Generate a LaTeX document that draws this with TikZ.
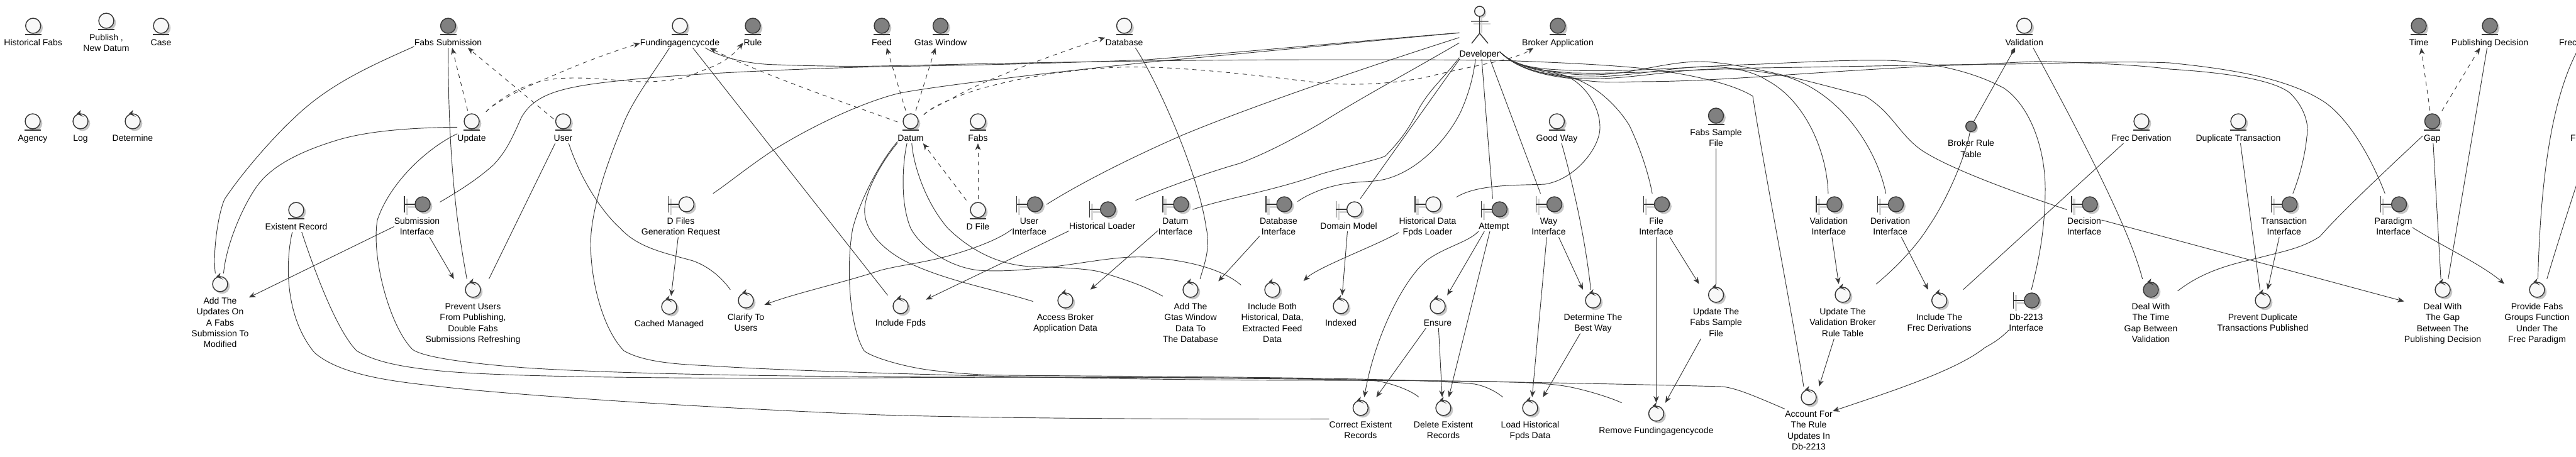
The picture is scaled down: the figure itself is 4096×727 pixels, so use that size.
\documentclass[tikz,border=0pt]{standalone}
\usepackage{fontspec}
\setmainfont{Liberation Sans}
\usepackage{tikz}
\usetikzlibrary{arrows.meta,shadows}
\definecolor{linecol}{RGB}{56, 56, 56}
\definecolor{lightfill}{RGB}{248, 248, 248}
\definecolor{darkfill}{RGB}{128, 128, 128}
\definecolor{barshade}{RGB}{214, 214, 214}

\newcommand{\topgap}{\rule{0pt}{36.2pt}}
\newcommand{\botgap}{\rule[-2.6pt]{0pt}{2.6pt}}
\newcommand{\entitynode}[5]{%
  \node[lbl] (#1) at (#2,#3-17.2) {\topgap #5\botgap};
  \draw[icon, fill=#4] (#2,#3) circle (12);
  \draw[iconline] (#2-13,#3+14) -- (#2+13,#3+14);
}
\newcommand{\controlnode}[5]{%
  \node[lbl] (#1) at (#2,#3-17.2) {\topgap #5\botgap};
  \draw[icon, fill=#4] (#2,#3) circle (12);
  \fill[linecol] (#2-6,#3-12) -- (#2+.5,#3-18) -- (#2-1,#3-12) -- (#2+5,#3-7) -- cycle;
}
\newcommand{\boundarynode}[5]{%
  \node[lbl] (#1) at (#2,#3-17.2) {\topgap #5\botgap};
  \draw[barline] (#2-16,#3-9) -- (#2-16,#3+17) (#2-16,#3+4) -- (#2+1,#3+4);
  \draw[iconline] (#2-20,#3-13) -- (#2-20,#3+13) (#2-20,#3) -- (#2-3,#3);
  \draw[icon, fill=#4] (#2+9,#3) circle (12);
}

\begin{document}
\begin{tikzpicture}[
    x=.75pt, y=-.75pt,
    lbl/.style={align=center, inner sep=0pt, anchor=north, minimum width=22.5pt,
      font=\fontsize{10.5}{13}\selectfont},
    icon/.style={draw=linecol, line width=1.1pt,
      drop shadow={shadow xshift=2.5pt, shadow yshift=-2.5pt, opacity=.45}},
    iconline/.style={draw=linecol, line width=1.1pt},
    barline/.style={draw=barshade, line width=2.6pt},
    rel/.style={draw=linecol, line width=.7pt},
    dep/.style={rel, dash pattern=on 5pt off 5pt},
    >={Stealth[length=8pt, width=6.5pt, inset=2.5pt]}
  ]
    \useasboundingbox (0,0) rectangle (4096,727);

    \entitynode{historicalFabs}{52.7}{41}{lightfill}{Historical Fabs}
    \entitynode{publishDatum}{169}{33}{lightfill}{Publish ,\\New Datum}
    \entitynode{caseEnt}{256}{41}{lightfill}{Case}
    \entitynode{fabsSubmission}{712.5}{41}{darkfill}{Fabs Submission}
    \entitynode{fundingagency}{1081}{41}{lightfill}{Fundingagencycode}
    \entitynode{ruleEnt}{1197}{41}{darkfill}{Rule}
    \entitynode{feed}{1402}{41}{darkfill}{Feed}
    \entitynode{gtasWindow}{1495.5}{41}{darkfill}{Gtas Window}
    \entitynode{databaseEnt}{1787.5}{41}{lightfill}{Database}
    \entitynode{brokerApplication}{2477}{41}{darkfill}{Broker Application}
    \entitynode{validationEnt}{3218.7}{41}{lightfill}{Validation}
    \entitynode{timeEnt}{3846}{41}{darkfill}{Time}
    \entitynode{publishingDecision}{3959}{41}{darkfill}{Publishing Decision}
    \node[lbl, text width=69pt, align=left] (frec) at (4115,23.8) {\topgap Frec\botgap};

    \entitynode{agency}{52}{193}{lightfill}{Agency}
    \controlnode{logCtrl}{128}{193}{lightfill}{Log}
    \controlnode{determineCtrl}{211}{193}{lightfill}{Determine}
    \entitynode{update}{750}{193}{lightfill}{Update}
    \entitynode{user}{895.5}{193}{lightfill}{User}
    \entitynode{datum}{1448}{193}{lightfill}{Datum}
    \entitynode{fabs}{1555}{193}{lightfill}{Fabs}
    \entitynode{goodWay}{2475.5}{193}{lightfill}{Good Way}
    \entitynode{fabsSample}{2728.5}{184}{darkfill}{Fabs Sample\\File}
    \entitynode{frecDerivation}{3405}{193}{lightfill}{Frec Derivation}
    \entitynode{duplicateTransaction}{3559}{193}{lightfill}{Duplicate Transaction}
    \entitynode{gap}{3867.4}{193}{darkfill}{Gap}
    \node[lbl, text width=60pt, align=left] (fragment) at (4127,175.8) {\topgap F\botgap};

    \node[lbl, anchor=north, circle, draw=linecol, line width=1.1pt, fill=darkfill, minimum size=12.5pt,
      drop shadow={shadow xshift=2pt, shadow yshift=-2pt, opacity=.45}, anchor=center] (brokerRule) at (3134,201) {};
    \node[lbl, anchor=center] (brokerRuleLabel) at (3134,236.5) {Broker Rule\\Table};

    \node[lbl] (developer) at (2352.5,5) {\rule{0pt}{63.75pt}Developer\botgap};
    \draw[barline, line width=2pt] (2356,29) -- (2356,52) (2343,38) -- (2370,38);
    \draw[iconline, fill=lightfill, drop shadow={shadow xshift=2pt, shadow yshift=-2pt, opacity=.4}] (2352.7,18) circle (8);
    \draw[iconline] (2352.7,26) -- (2352.7,53) (2339,34) -- (2366.5,34) (2340,69) -- (2352.7,53) -- (2366,69);

    \entitynode{existentRecord}{471}{334}{lightfill}{Existent Record}
    \boundarynode{submissionInterface}{663}{325}{darkfill}{Submission\\Interface}
    \boundarynode{dFiles}{1082.5}{325}{lightfill}{D Files\\Generation Request}
    \entitynode{dFile}{1555}{334}{lightfill}{D File}
    \boundarynode{userInterface}{1636.6}{325}{darkfill}{User\\Interface}
    \boundarynode{historicalLoader}{1752.7}{333}{darkfill}{Historical Loader}
    \boundarynode{datumInterface}{1869}{325}{darkfill}{Datum\\Interface}
    \boundarynode{databaseInterface}{2033}{325}{darkfill}{Database\\Interface}
    \boundarynode{domainModel}{2144.6}{333}{lightfill}{Domain Model}
    \boundarynode{historicalData}{2270}{325}{lightfill}{Historical Data\\Fpds Loader}
    \boundarynode{attempt}{2375.4}{333}{darkfill}{Attempt}
    \boundarynode{wayInterface}{2462.5}{325}{darkfill}{Way\\Interface}
    \boundarynode{fileInterface}{2633.5}{325}{darkfill}{File\\Interface}
    \boundarynode{validationInterface}{2907.8}{325}{darkfill}{Validation\\Interface}
    \boundarynode{derivationInterface}{3005.6}{325}{darkfill}{Derivation\\Interface}
    \boundarynode{decisionInterface}{3314}{325}{darkfill}{Decision\\Interface}
    \boundarynode{transactionInterface}{3631.7}{325}{darkfill}{Transaction\\Interface}
    \boundarynode{paradigmInterface}{3805.6}{325}{darkfill}{Paradigm\\Interface}

    \controlnode{addUpdates}{350}{452}{lightfill}{Add The\\Updates On\\A Fabs\\Submission To\\Modified}
    \controlnode{preventUsers}{752}{461}{lightfill}{Prevent Users\\From Publishing,\\Double Fabs\\Submissions Refreshing}
    \controlnode{cachedManaged}{1064}{488}{lightfill}{Cached Managed}
    \controlnode{clarifyUsers}{1186}{478}{lightfill}{Clarify To\\Users}
    \controlnode{includeFpds}{1432}{487}{lightfill}{Include Fpds}
    \controlnode{accessBroker}{1694}{478}{lightfill}{Access Broker\\Application Data}
    \controlnode{addGtas}{1893}{461}{lightfill}{Add The\\Gtas Window\\Data To\\The Database}
    \controlnode{includeBoth}{2023}{461}{lightfill}{Include Both\\Historical, Data,\\Extracted Feed\\Data}
    \controlnode{indexedCtrl}{2132}{487}{lightfill}{Indexed}
    \controlnode{ensureCtrl}{2286}{487}{lightfill}{Ensure}
    \controlnode{determineWay}{2533}{478}{lightfill}{Determine The\\Best Way}
    \controlnode{updateFabs}{2728.6}{469}{lightfill}{Update The\\Fabs Sample\\File}
    \controlnode{updateValidation}{2930}{469}{lightfill}{Update The\\Validation Broker\\Rule Table}
    \controlnode{includeFrec}{3083.6}{478}{lightfill}{Include The\\Frec Derivations}
    \boundarynode{dbInterface}{3221.6}{478}{darkfill}{Db-2213\\Interface}
    \controlnode{dealTime}{3420}{461}{darkfill}{Deal With\\The Time\\Gap Between\\Validation}
    \controlnode{preventDuplicate}{3598}{478}{lightfill}{Prevent Duplicate\\Transactions Published}
    \controlnode{dealGap}{3884}{461}{lightfill}{Deal With\\The Gap\\Between The\\Publishing Decision}
    \controlnode{provideFabs}{4034}{461}{lightfill}{Provide Fabs\\Groups Function\\Under The\\Frec Paradigm}

    \controlnode{correctExistent}{2163.4}{649}{lightfill}{Correct Existent\\Records}
    \controlnode{deleteExistent}{2295}{649}{lightfill}{Delete Existent\\Records}
    \controlnode{loadHistorical}{2433}{649}{lightfill}{Load Historical\\Fpds Data}
    \controlnode{removeFunding}{2633.5}{658}{lightfill}{Remove Fundingagencycode}
    \controlnode{accountFor}{2876}{632}{lightfill}{Account For\\The Rule\\Updates In\\Db-2213}

    \draw[dep,->] (update) -- (fabsSubmission);
    \draw[dep,->] (user) -- (fabsSubmission);
    \draw[dep,->] (update) .. controls (785,165) and (820,145) .. (880,120) .. controls (925,100) and (980,80) .. (fundingagency);
    \draw[dep,->] (update) .. controls (785,165) and (810,148) .. (834,138) .. controls (860,127) and (885,124) .. (914,124)
      .. controls (960,124) and (1000,131) .. (1035,130) .. controls (1070,128) and (1090,125) .. (1110,115)
      .. controls (1135,105) and (1155,100) .. (ruleEnt);
    \draw[dep,->] (datum) .. controls (1390,180) and (1200,115) .. (fundingagency);
    \draw[dep,->] (datum) -- (feed);
    \draw[dep,->] (datum) -- (gtasWindow);
    \draw[dep,->] (datum) .. controls (1480,172) and (1500,165) .. (1520,153) .. controls (1570,125) and (1680,85) .. (databaseEnt);
    \draw[dep,->] (datum) .. controls (1480,172) and (1495,165) .. (1512,158) .. controls (1580,128) and (1700,110) .. (1780,107)
      .. controls (1870,104) and (2000,120) .. (2100,132) .. controls (2170,138) and (2240,130) .. (2279,120)
      .. controls (2340,105) and (2410,95) .. (brokerApplication);
    \draw[dep,->] (dFile) -- (datum);
    \draw[dep,->] (dFile) -- (fabs);
    \draw[dep,->] (gap) -- (timeEnt);
    \draw[dep,->] (gap) -- (publishingDecision);

    \draw[rel] (developer) .. controls (2200,62) and (1950,85) .. (1824,95) .. controls (1700,100) and (1550,104) .. (1400,106)
      .. controls (1250,110) and (1080,118) .. (990,128) .. controls (890,138) and (850,150) .. (829,187)
      .. controls (812,225) and (805,240) .. (785,262) .. controls (765,280) and (740,298) .. (submissionInterface);
    \draw[rel] (developer) .. controls (2200,63) and (1950,88) .. (1846,97) .. controls (1700,112) and (1500,135) .. (1431,148)
      .. controls (1380,160) and (1300,195) .. (1231,238) .. controls (1190,265) and (1160,290) .. (dFiles);
    \draw[rel] (developer) .. controls (2200,98) and (2000,165) .. (1880,215) .. controls (1800,250) and (1720,290) .. (userInterface);
    \draw[rel] (developer) .. controls (2240,115) and (2160,158) .. (2100,196) .. controls (2050,225) and (2010,245) .. (1971,260)
      .. controls (1935,270) and (1860,295) .. (historicalLoader);
    \draw[rel] (developer) .. controls (2295,125) and (2275,140) .. (2256,173) .. controls (2245,195) and (2235,215) .. (2203,248)
      .. controls (2195,253) and (2140,265) .. (2100,277) .. controls (2020,305) and (1950,315) .. (datumInterface);
    \draw[rel] (developer) .. controls (2342,125) and (2335,150) .. (2323,177) .. controls (2305,215) and (2260,270) .. (2203,285)
      .. controls (2175,292) and (2150,285) .. (2100,302) .. controls (2090,306) and (2075,312) .. (databaseInterface);
    \draw[rel] (developer) -- (domainModel);
    \draw[rel] (developer) -- (attempt);
    \draw[rel] (developer) -- (wayInterface);
    \draw[rel] (developer) .. controls (2410,108) and (2450,108) .. (2488,120) .. controls (2515,130) and (2544,165) .. (2544,203)
      .. controls (2544,235) and (2505,285) .. (2457,293) .. controls (2420,295) and (2350,292) .. (historicalData);
    \draw[rel] (developer) .. controls (2410,108) and (2450,112) .. (2493,122) .. controls (2530,130) and (2570,165) .. (2591,200)
      .. controls (2610,240) and (2622,280) .. (fileInterface);
    \draw[rel] (developer) .. controls (2410,108) and (2450,118) .. (2500,122) .. controls (2580,126) and (2660,105) .. (2720,106)
      .. controls (2760,107) and (2790,115) .. (2810,128) .. controls (2870,160) and (2905,240) .. (validationInterface);
    \draw[rel] (developer) .. controls (2410,108) and (2450,118) .. (2500,124) .. controls (2570,130) and (2650,112) .. (2720,110)
      .. controls (2770,108) and (2810,115) .. (2841,122) .. controls (2930,150) and (2985,240) .. (derivationInterface);
    \draw[rel] (developer) .. controls (2410,108) and (2450,112) .. (2500,118) .. controls (2580,125) and (2640,98) .. (2703,98)
      .. controls (2760,98) and (2880,130) .. (2966,153) .. controls (3010,180) and (3020,215) .. (3057,240)
      .. controls (3100,268) and (3200,305) .. (decisionInterface);
    \draw[rel] (developer) .. controls (2410,108) and (2450,110) .. (2500,112) .. controls (2600,115) and (2700,105) .. (2800,102)
      .. controls (2880,98) and (2950,95) .. (3000,96) .. controls (3060,98) and (3130,110) .. (3186,140)
      .. controls (3230,170) and (3252,240) .. (3252,300) .. controls (3252,370) and (3240,420) .. (dbInterface);
    \draw[rel] (developer) .. controls (2410,108) and (2450,120) .. (2500,125) .. controls (2530,130) and (2550,132) .. (2600,130)
      .. controls (2680,130) and (2750,125) .. (2800,122) .. controls (2900,115) and (3050,105) .. (3132,103)
      .. controls (3200,100) and (3230,97) .. (3256,98) .. controls (3320,100) and (3400,103) .. (3450,110)
      .. controls (3530,115) and (3610,125) .. (3640,147) .. controls (3665,170) and (3672,200) .. (3668,217)
      .. controls (3665,250) and (3655,285) .. (transactionInterface);
    \draw[rel] (developer) .. controls (2410,108) and (2450,112) .. (2500,116) .. controls (2600,118) and (2700,110) .. (2800,108)
      .. controls (2950,106) and (3050,103) .. (3194,102) .. controls (3300,100) and (3380,97) .. (3450,100)
      .. controls (3550,110) and (3640,125) .. (3697,163) .. controls (3735,190) and (3770,250) .. (paradigmInterface);

    \draw[rel] (fabsSubmission) .. controls (600,100) and (541,126) .. (491,167) .. controls (441,208) and (382,279) .. (357,317)
      .. controls (347,340) and (338,400) .. (addUpdates);
    \draw[rel] (update) .. controls (680,203) and (595,205) .. (536,223) .. controls (480,240) and (435,262) .. (411,293)
      .. controls (390,320) and (360,385) .. (addUpdates);
    \draw[rel] (fabsSubmission) .. controls (713,250) and (725,350) .. (preventUsers);
    \draw[rel] (user) -- (preventUsers);
    \draw[rel] (user) .. controls (925,290) and (960,340) .. (986,363) .. controls (1015,395) and (1060,403) .. (1102,415)
      .. controls (1130,425) and (1150,445) .. (clarifyUsers);
    \draw[rel] (update) .. controls (680,235) and (620,290) .. (600,350) .. controls (590,410) and (620,520) .. (656,556)
      .. controls (670,566) and (720,576) .. (834,585) .. controls (1000,596) and (1300,600) .. (1600,600)
      .. controls (1900,600) and (2400,606) .. (2738,615) .. controls (2760,617) and (2790,630) .. (accountFor);
    \draw[rel] (existentRecord) .. controls (455,410) and (450,500) .. (500,561) .. controls (545,600) and (640,608) .. (700,615)
      .. controls (800,627) and (1100,648) .. (1400,660) .. controls (1600,666) and (1900,667) .. (correctExistent);
    \draw[rel] (existentRecord) .. controls (490,400) and (530,520) .. (567,558) .. controls (600,578) and (650,585) .. (700,590)
      .. controls (800,600) and (1100,603) .. (1400,601) .. controls (1700,599) and (2100,600) .. (2189,606)
      .. controls (2215,610) and (2245,622) .. (deleteExistent);
    \draw[rel] (fundingagency) .. controls (1040,115) and (1005,160) .. (990,200) .. controls (965,260) and (945,320) .. (940,370)
      .. controls (935,430) and (955,520) .. (992,558) .. controls (1030,580) and (1100,580) .. (1146,583)
      .. controls (1250,590) and (1700,605) .. (2100,605) .. controls (2300,606) and (2440,605) .. (2493,615)
      .. controls (2520,620) and (2560,632) .. (removeFunding);
    \draw[rel] (fundingagency) -- (includeFpds);
    \draw[rel] (fundingagency) .. controls (1140,88) and (1180,102) .. (1236,103) .. controls (1290,105) and (1350,106) .. (1400,105)
      .. controls (1500,103) and (1800,95) .. (2100,95) .. controls (2250,95) and (2350,95) .. (2412,97)
      .. controls (2490,100) and (2550,103) .. (2604,108) .. controls (2670,115) and (2750,130) .. (2787,153)
      .. controls (2805,270) and (2850,500) .. (accountFor);
    \draw[rel] (datum) .. controls (1405,250) and (1370,310) .. (1356,363) .. controls (1345,420) and (1350,520) .. (1374,558)
      .. controls (1385,568) and (1440,585) .. (1489,590) .. controls (1530,595) and (1570,597) .. (1601,597)
      .. controls (1800,599) and (2250,600) .. (2345,611) .. controls (2365,615) and (2380,624) .. (loadHistorical);
    \draw[rel] (datum) .. controls (1400,260) and (1372,310) .. (1375,340) .. controls (1378,375) and (1415,405) .. (1449,420)
      .. controls (1510,448) and (1580,460) .. (accessBroker);
    \draw[rel] (datum) .. controls (1436,255) and (1430,320) .. (1448,363) .. controls (1465,395) and (1510,425) .. (1556,430)
      .. controls (1600,433) and (1640,428) .. (1677,424) .. controls (1740,416) and (1790,405) .. (1833,410)
      .. controls (1880,414) and (1940,425) .. (includeBoth);
    \draw[rel] (datum) .. controls (1452,260) and (1470,320) .. (1507,363) .. controls (1545,400) and (1590,422) .. (1640,424)
      .. controls (1700,426) and (1740,428) .. (1757,435) .. controls (1790,445) and (1820,455) .. (addGtas);
    \draw[rel] (databaseEnt) .. controls (1835,120) and (1905,270) .. (1918,363) .. controls (1925,395) and (1915,420) .. (addGtas);
    \draw[rel] (goodWay) .. controls (2495,270) and (2520,370) .. (determineWay);
    \draw[rel] (fabsSample) -- (updateFabs);
    \draw[rel] (brokerRule) .. controls (3125,250) and (3095,320) .. (3065,363) .. controls (3045,395) and (3010,430) .. (updateValidation);
    \draw[rel, -{Diamond[length=9pt, width=5pt]}] (brokerRule) -- (validationEnt);
    \draw[rel] (validationEnt) .. controls (3300,200) and (3385,360) .. (dealTime);
    \draw[rel] (frecDerivation) -- (includeFrec);
    \draw[rel] (duplicateTransaction) -- (preventDuplicate);
    \draw[rel] (gap) .. controls (3800,265) and (3720,340) .. (3689,376) .. controls (3660,395) and (3630,400) .. (3592,410)
      .. controls (3550,420) and (3505,430) .. (dealTime);
    \draw[rel] (gap) -- (dealGap);
    \draw[rel] (publishingDecision) -- (dealGap);
    \draw[rel] (frec) .. controls (4060,150) and (4040,270) .. (provideFabs);
    \draw[rel] (fragment) .. controls (4098,290) and (4074,363) .. (provideFabs);

    \draw[rel,->] (submissionInterface) -- (addUpdates);
    \draw[rel,->] (submissionInterface) -- (preventUsers);
    \draw[rel,->] (dFiles) -- (cachedManaged);
    \draw[rel,->] (userInterface) .. controls (1590,380) and (1550,395) .. (1512,406) .. controls (1470,418) and (1430,422) .. (1400,430)
      .. controls (1340,450) and (1270,465) .. (clarifyUsers);
    \draw[rel,->] (historicalLoader) -- (includeFpds);
    \draw[rel,->] (datumInterface) -- (accessBroker);
    \draw[rel,->] (databaseInterface) -- (addGtas);
    \draw[rel,->] (historicalData) .. controls (2190,390) and (2095,425) .. (includeBoth);
    \draw[rel,->] (domainModel) -- (indexedCtrl);
    \draw[rel,->] (attempt) -- (ensureCtrl);
    \draw[rel,->] (attempt) -- (deleteExistent);
    \draw[rel,->] (attempt) .. controls (2335,385) and (2300,392) .. (2270,413) .. controls (2230,445) and (2185,540) .. (correctExistent);
    \draw[rel,->] (ensureCtrl) -- (correctExistent);
    \draw[rel,->] (ensureCtrl) -- (deleteExistent);
    \draw[rel,->] (wayInterface) -- (loadHistorical);
    \draw[rel,->] (wayInterface) -- (determineWay);
    \draw[rel,->] (determineWay) -- (loadHistorical);
    \draw[rel,->] (fileInterface) -- (removeFunding);
    \draw[rel,->] (fileInterface) -- (updateFabs);
    \draw[rel,->] (updateFabs) -- (removeFunding);
    \draw[rel,->] (validationInterface) -- (updateValidation);
    \draw[rel,->] (updateValidation) -- (accountFor);
    \draw[rel,->] (derivationInterface) -- (includeFrec);
    \draw[rel,->] (dbInterface) .. controls (3180,540) and (3165,548) .. (3156,553) .. controls (3110,590) and (3000,625) .. (accountFor);
    \draw[rel,->] (transactionInterface) -- (preventDuplicate);
    \draw[rel,->] (decisionInterface) -- (dealGap);
    \draw[rel,->] (paradigmInterface) .. controls (3880,390) and (3945,420) .. (provideFabs);
  \end{tikzpicture}
\end{document}
